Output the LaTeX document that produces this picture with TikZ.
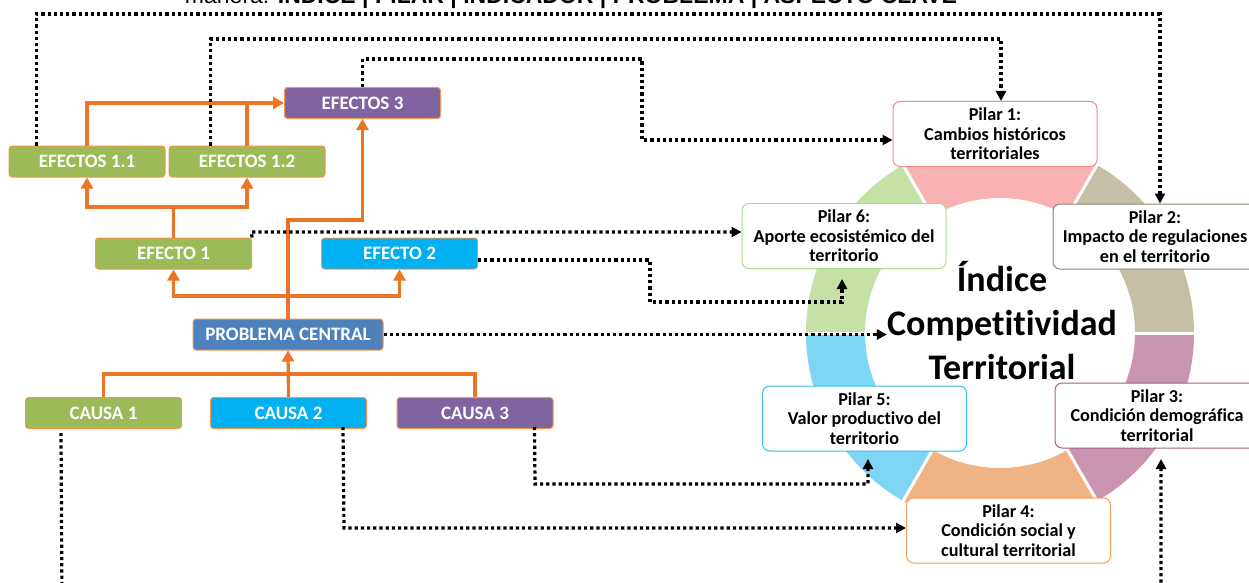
\documentclass[tikz,border=0pt]{standalone}
\usepackage{fontspec}
\setmainfont{Carlito}[Ligatures=NoCommon]
\newfontfamily\topfont{Liberation Sans}
\usetikzlibrary{arrows.meta,calc}
\definecolor{cgreen}{HTML}{9BBB59}
\definecolor{ccyan}{HTML}{00B0F0}
\definecolor{cpurple}{HTML}{8064A2}
\definecolor{cblue}{HTML}{4F81BD}
\definecolor{boxedge}{HTML}{F79646}
\definecolor{orline}{HTML}{EC7424}
\definecolor{s1}{HTML}{F9B1B1}
\definecolor{s2}{HTML}{C5BFA5}
\definecolor{s3}{HTML}{C994B0}
\definecolor{s4}{HTML}{F0B383}
\definecolor{s5}{HTML}{7FD5F4}
\definecolor{s6}{HTML}{C5E1A5}
\definecolor{b1}{HTML}{F28B8B}
\definecolor{b2}{HTML}{8C8470}
\definecolor{b3}{HTML}{A65E85}
\definecolor{b4}{HTML}{F5A05A}
\definecolor{b5}{HTML}{33BDF2}
\definecolor{b6}{HTML}{A9D98A}
\begin{document}
\begin{tikzpicture}[x=1pt,y=-1pt,
  lbox/.style={draw=boxedge, line width=1pt, rounded corners=3pt, minimum width=156pt, minimum height=31pt, inner sep=0pt, text=white, font=\fontsize{19}{22}\selectfont\bfseries},
  pbox/.style={fill=white, line width=1pt, rounded corners=7pt, minimum width=204pt, minimum height=65pt, inner sep=0pt, align=center, text=black, font=\fontsize{18.2}{19.5}\selectfont\bfseries},
  oarrow/.style={draw=orline, line width=3.2pt, -{Triangle[length=11pt,width=12pt]}},
  oline/.style={draw=orline, line width=3.2pt},
  dline/.style={draw=black, line width=3.2pt, dash pattern=on 3.2pt off 3pt, -{Triangle[length=10pt,width=10pt]}},
]
\useasboundingbox (0,0) rectangle (1249,583);
\clip (0,0) rectangle (1249,583);

% top text (cut off by the frame, as in the reference)
\node[anchor=base, inner sep=0pt, font=\topfont\fontsize{23}{23}\selectfont] (toptext) at (571,4) {manera: \textbf{ÍNDICE | PILAR | INDICADOR | PROBLEMA | ASPECTO CLAVE}};

% ring
\begin{scope}[shift={(1000,333)}, yscale=-1]
  \fill[s2] (0:194) arc[start angle=0,end angle=60,radius=194] -- (60:135) arc[start angle=60,end angle=0,radius=135] -- cycle;
  \fill[s1] (60:194) arc[start angle=60,end angle=120,radius=194] -- (120:135) arc[start angle=120,end angle=60,radius=135] -- cycle;
  \fill[s6] (120:194) arc[start angle=120,end angle=180,radius=194] -- (180:135) arc[start angle=180,end angle=120,radius=135] -- cycle;
  \fill[s5] (180:194) arc[start angle=180,end angle=240,radius=194] -- (240:135) arc[start angle=240,end angle=180,radius=135] -- cycle;
  \fill[s4] (240:194) arc[start angle=240,end angle=300,radius=194] -- (300:135) arc[start angle=300,end angle=240,radius=135] -- cycle;
  \fill[s3] (300:194) arc[start angle=300,end angle=360,radius=194] -- (360:135) arc[start angle=360,end angle=300,radius=135] -- cycle;
  \foreach \a in {0,60,...,300} \draw[white, line width=3pt] (\a:130) -- (\a:199);
\end{scope}

\node[font=\fontsize{36}{44}\selectfont\bfseries, align=center, inner sep=0pt] (title) at (1002,321) {Índice\\Competitividad\\Territorial};

% left tree boxes
\node[lbox, fill=cpurple] (e3) at (362.5,103) {EFECTOS 3};
\node[lbox, fill=cgreen] (e11) at (87,161.5) {EFECTOS 1.1};
\node[lbox, fill=cgreen] (e12) at (247,161.5) {EFECTOS 1.2};
\node[lbox, fill=cgreen] (e1) at (173.5,253.5) {EFECTO 1};
\node[lbox, fill=ccyan] (e2) at (399.5,253.5) {EFECTO 2};
\node[lbox, fill=cblue, minimum width=190pt] (pc) at (288,334.5) {PROBLEMA CENTRAL};
\node[lbox, fill=cgreen] (c1) at (103.5,413) {CAUSA 1};
\node[lbox, fill=ccyan] (c2) at (288.5,413) {CAUSA 2};
\node[lbox, fill=cpurple] (c3) at (475,413) {CAUSA 3};

% pillars
\node[pbox, draw=b1] (p1) at (995,134) {Pilar 1:\\Cambios históricos\\territoriales};
\node[pbox, draw=b2] (p2) at (1155,236.5) {Pilar 2:\\Impacto de regulaciones\\en el territorio};
\node[pbox, draw=b3] (p3) at (1157,415.5) {Pilar 3:\\Condición demográfica\\territorial};
\node[pbox, draw=b4] (p4) at (1008.5,530.5) {Pilar 4:\\Condición social y\\cultural territorial};
\node[pbox, draw=b5] (p5) at (864.5,418.5) {Pilar 5:\\Valor productivo del\\territorio};
\node[pbox, draw=b6] (p6) at (844,236) {Pilar 6:\\Aporte ecosistémico del\\territorio};

% orange tree connectors
\coordinate (jc) at (288,374);
\draw[oline] (c1.north) |- (jc) -| (c3.north);
\draw[oarrow] (c2.north) -- (pc.south);
\coordinate (je) at (288,296);
\coordinate (k3) at (288,220);
\draw[oarrow] (pc.north) -- (k3) -| (e3.south);
\draw[oarrow] (je) -| (e1.south);
\draw[oarrow] (je) -| (e2.south);
\coordinate (j1) at (173.5,207);
\draw[oline] (e1.north) -- (j1);
\draw[oarrow] (j1) -| (e11.south);
\draw[oarrow] (j1) -| (e12.south);
\draw[oarrow] (e11.north) |- (e3.west);
\draw[oline] (e12.north) -- (e12.north |- e3.west);

% dotted connectors
\coordinate (t1) at (1160,14);
\draw[dline] ($(e11.north west)+(28,0)$) |- (t1) -- (t1 |- p2.north);
\coordinate (t2) at (1001,39);
\draw[dline] ($(e12.north west)+(42,0)$) |- (t2) -- (t2 |- p1.north);
\coordinate (t3) at (642,59);
\coordinate (t3b) at (642,140);
\draw[dline] (e3.north) |- (t3) -- (t3b) -- (t3b -| p1.west);
\coordinate (t4) at (251.5,232);
\draw[dline] (e1.north east) -- (t4) -- (t4 -| p6.west);
\coordinate (t5a) at (650,260);
\coordinate (t5b) at (842,302);
\coordinate (t5c) at (842,279);
\draw[dline] (e2.east |- t5a) -- (t5a) |- (t5b) -- (t5c);
\draw[dline] (pc.east) -- (pc.east -| title.west);
\coordinate (t7a) at (62,600);
\coordinate (t7b) at (1161,600);
\coordinate (t7c) at (1161,459);
\draw[dline] ($(c1.south west)+(36,4)$) -- (t7a) -- (t7b) -- (t7c);
\coordinate (t8) at (344,528);
\draw[dline] ($(c2.south west)+(133,-2)$) -- (t8) -- (t8 -| p4.west);
\coordinate (t9a) at (535,484);
\coordinate (t9b) at (868,484);
\coordinate (t9c) at (868,459);
\draw[dline] ($(c3.south west)+(138,-2)$) -- (t9a) -- (t9b) -- (t9c);
\end{tikzpicture}
\end{document}
